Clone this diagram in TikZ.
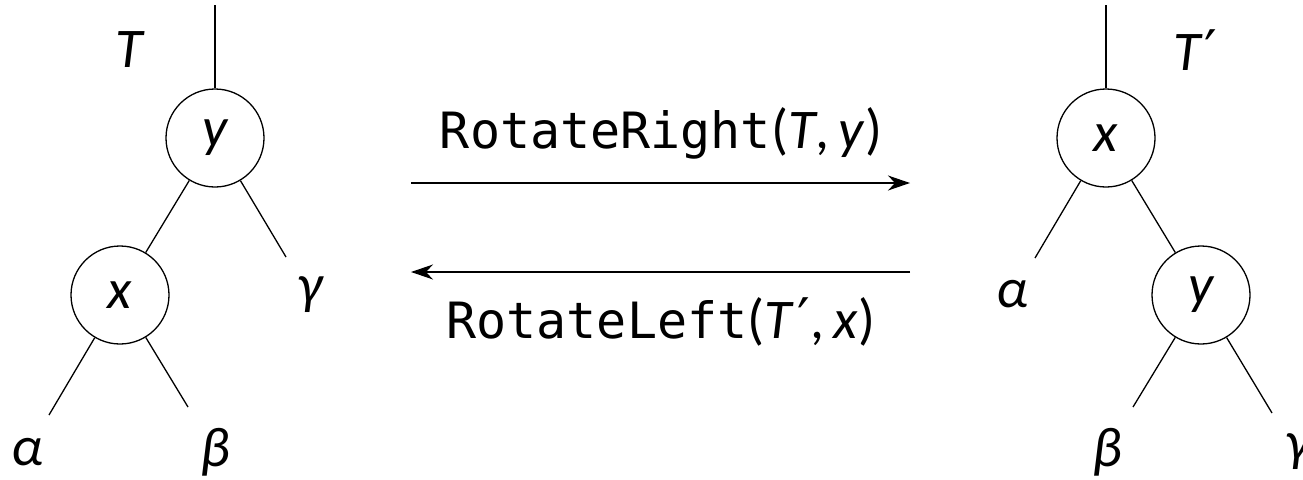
\documentclass[tikz,border=0pt]{standalone}
\usepackage{fontspec}
\setmainfont{Carlito}
\newfontfamily\monofam{DejaVu Sans Mono}
\newfontfamily\primefam{DejaVu Sans}
\newcommand{\pr}{\kern4pt{\primefam\upshape ′}}
\usetikzlibrary{arrows.meta}
\begin{document}
\begin{tikzpicture}[x=1pt,y=-1pt,
  edge/.style={line width=1.3pt},
  keynode/.style={circle,draw,line width=1.3pt,minimum size=98pt,inner sep=0pt,
    font=\fontsize{56}{60}\selectfont\itshape},
  leaf/.style={inner sep=0pt,font=\fontsize{56}{60}\selectfont\itshape},
  oplabel/.style={inner sep=0pt,anchor=base,font=\fontsize{56}{60}\selectfont},
  oparrow/.style={line width=1.3pt,-{Stealth[length=22pt,width=15pt,inset=7pt]}}]
\useasboundingbox (0,0) rectangle (1303,479);

% tree T, rooted at y
\node[keynode] (ly) at (215,138) {y};
\node[keynode] (lx) at (120,295) {x};
\coordinate (lroot) at (215,5);
\coordinate (lalphaend) at (49,415);
\coordinate (lbetaend) at (188,407);
\coordinate (lgammaend) at (286,257);
\node[leaf] (lT) at (129,50) {T};
\node[leaf] (lalpha) at (27,452) {α};
\node[leaf] (lbeta) at (215,452) {β};
\node[leaf] (lgamma) at (310,295) {γ};
\draw[edge] (lroot) -- (ly);
\draw[edge] (ly) -- (lx);
\draw[edge] (ly) -- (lgammaend);
\draw[edge] (lx) -- (lalphaend);
\draw[edge] (lx) -- (lbetaend);

% tree T', rooted at x
\node[keynode] (rx) at (1106,138) {x};
\node[keynode] (ry) at (1201,295) {y};
\coordinate (rroot) at (1106,5);
\coordinate (ralphaend) at (1035,258);
\coordinate (rbetaend) at (1133,407);
\coordinate (rgammaend) at (1272,413);
\node[leaf] (rT) at (1195,50) {T\pr};
\node[leaf] (ralpha) at (1012,294) {α};
\node[leaf] (rbeta) at (1107,452) {β};
\node[leaf] (rgamma) at (1298,452) {γ};
\draw[edge] (rroot) -- (rx);
\draw[edge] (rx) -- (ry);
\draw[edge] (rx) -- (ralphaend);
\draw[edge] (ry) -- (rbetaend);
\draw[edge] (ry) -- (rgammaend);

% rotations
\coordinate (rrstart) at (411,183);
\coordinate (rrend) at (910,183);
\coordinate (rlstart) at (910,272);
\coordinate (rlend) at (411,272);
\draw[oparrow] (rrstart) -- (rrend);
\draw[oparrow] (rlstart) -- (rlend);
\node[oplabel] (rrlabel) at (661,148)
  {{\monofam\fontsize{50}{54}\selectfont RotateRight}(\textit{T},\,\textit{y})};
\node[oplabel] (rllabel) at (661,338)
  {{\monofam\fontsize{50}{54}\selectfont RotateLeft}(\textit{T}\pr,\,\textit{x})};
\end{tikzpicture}
\end{document}
